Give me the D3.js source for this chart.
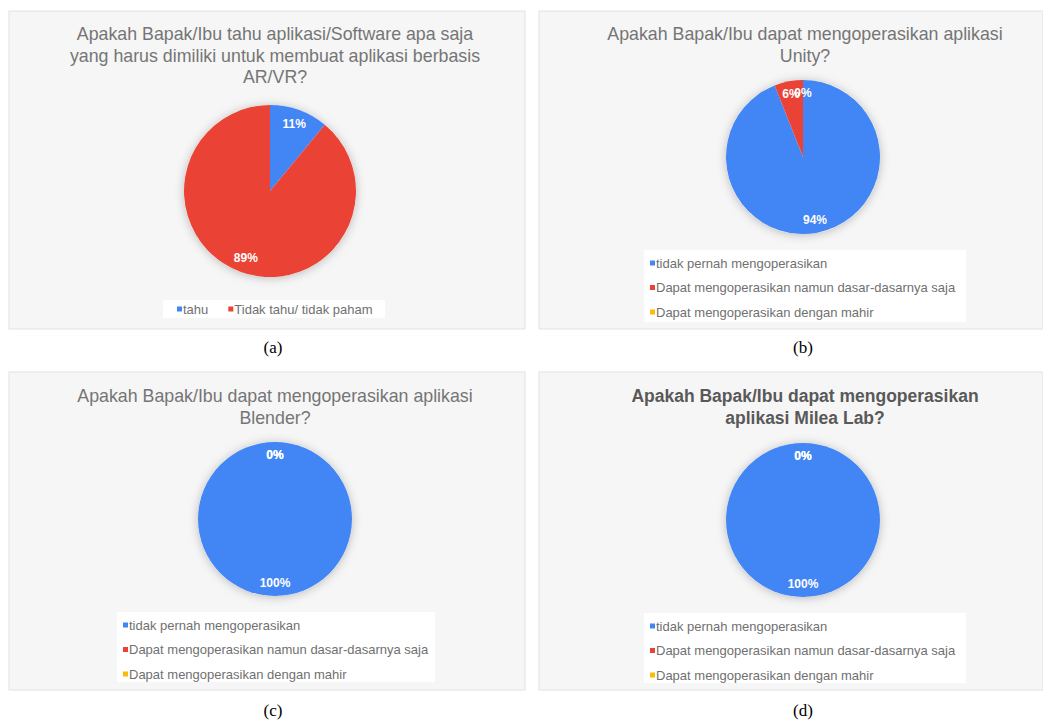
<!DOCTYPE html>
<html>
<head>
<meta charset="utf-8">
<script src="https://cdn.jsdelivr.net/npm/d3@7"></script>
<style>
  body { margin: 0; background: #fff; }
  svg { display: block; }
</style>
</head>
<body>
<svg id="chart" width="1043" height="726"></svg>
<script>
// data
var titleA = ["Apakah Bapak/Ibu tahu aplikasi/Software apa saja", "yang harus dimiliki untuk membuat aplikasi berbasis", "AR/VR?"];
var titleB = ["Apakah Bapak/Ibu dapat mengoperasikan aplikasi", "Unity?"];
var titleC = ["Apakah Bapak/Ibu dapat mengoperasikan aplikasi", "Blender?"];
var titleD = ["Apakah Bapak/Ibu dapat mengoperasikan", "aplikasi Milea Lab?"];

var legendA = ["tahu", "Tidak tahu/ tidak paham"];
var legendSkill = ["tidak pernah mengoperasikan", "Dapat mengoperasikan namun dasar-dasarnya saja", "Dapat mengoperasikan dengan mahir"];

var valuesA = [11, 89];
var valuesB = [94, 6, 0];
var valuesC = [100, 0, 0];
var valuesD = [100, 0, 0];

var captions = ["(a)", "(b)", "(c)", "(d)"];
var colors = ["#4285f4", "#ea4335", "#fbbc04"];

// layout of the four panels
var panels = [
  {box: [9, 11, 516, 318], title: titleA, bold: false, titleX: 275, titleY: 34, cx: 270, cy: 191, r: 86,
   legend: legendA, values: valuesA, horiz: true, legY: 309, legBox: [163, 300, 222, 18], cap: [273, 347]},
  {box: [539, 11, 504, 318], title: titleB, bold: false, titleX: 805, titleY: 34, cx: 803, cy: 157, r: 77,
   legend: legendSkill, values: valuesB, horiz: false, legY: 263, legBox: [644, 250, 322, 72], cap: [803, 347]},
  {box: [9, 372, 516, 318], title: titleC, bold: false, titleX: 275, titleY: 396, cx: 275, cy: 519, r: 77,
   legend: legendSkill, values: valuesC, horiz: false, legY: 625, legBox: [117, 612, 318, 70], cap: [273, 710]},
  {box: [539, 372, 504, 318], title: titleD, bold: true, titleX: 805, titleY: 396, cx: 803, cy: 520, r: 77,
   legend: legendSkill, values: valuesD, horiz: false, legY: 626, legBox: [644, 613, 322, 70], cap: [803, 710]}
];

var svg = d3.select("#chart");

var defs = svg.append("defs");
var f = defs.append("filter").attr("id", "shadow")
  .attr("x", "-25%").attr("y", "-25%").attr("width", "150%").attr("height", "150%");
f.append("feDropShadow").attr("dx", 0).attr("dy", 1).attr("stdDeviation", 5)
  .attr("flood-color", "#000").attr("flood-opacity", 0.25);

var pie = d3.pie().sort(null).value(function(d) { return d; });

panels.forEach(function(p, pi) {
  var g = svg.append("g");

  g.append("rect")
    .attr("x", p.box[0]).attr("y", p.box[1])
    .attr("width", p.box[2]).attr("height", p.box[3])
    .attr("fill", "#f6f6f6").attr("stroke", "#e2e2e2").attr("stroke-width", 1);

  var title = g.append("text")
    .attr("text-anchor", "middle")
    .attr("font-family", "Liberation Sans, Arial, sans-serif")
    .attr("font-size", p.bold ? 17.5 : 17.8)
    .attr("font-weight", p.bold ? "bold" : "normal")
    .attr("fill", p.bold ? "#595959" : "#757575");
  p.title.forEach(function(line, i) {
    title.append("tspan").attr("x", p.titleX).attr("y", p.titleY + i * 21.5)
      .attr("dominant-baseline", "central").text(line);
  });

  var total = d3.sum(p.values);
  var arcs = pie(p.values);
  var arc = d3.arc().innerRadius(0).outerRadius(p.r);
  var labelArc = d3.arc().innerRadius(p.r * 0.83).outerRadius(p.r * 0.83);

  var pg = g.append("g").attr("transform", "translate(" + p.cx + "," + p.cy + ")");
  pg.append("circle").attr("r", p.r).attr("fill", "#fff").attr("filter", "url(#shadow)");
  pg.selectAll("path.slice").data(arcs).join("path")
    .attr("class", "slice")
    .attr("d", arc)
    .attr("fill", function(d, i) { return colors[i]; });

  pg.selectAll("text.lbl").data(arcs).join("text")
    .attr("class", "lbl")
    .attr("transform", function(d) { return "translate(" + labelArc.centroid(d) + ")"; })
    .attr("text-anchor", "middle")
    .attr("dominant-baseline", "central")
    .attr("font-family", "Liberation Sans, Arial, sans-serif")
    .attr("font-size", 12)
    .attr("font-weight", "bold")
    .attr("fill", "#fff")
    .text(function(d) { return Math.round(d.value / total * 100) + "%"; });

  // legend
  g.append("rect")
    .attr("x", p.legBox[0]).attr("y", p.legBox[1])
    .attr("width", p.legBox[2]).attr("height", p.legBox[3])
    .attr("fill", "#fff");

  var lx = p.legBox[0] + 14;
  p.legend.forEach(function(name, i) {
    var ly = p.horiz ? p.legY : p.legY + i * 24.5;
    var mx = p.horiz ? lx : p.legBox[0] + 6;
    g.append("rect").attr("x", mx).attr("y", ly - 2.5).attr("width", 5).attr("height", 5)
      .attr("fill", colors[i]);
    var t = g.append("text")
      .attr("x", mx + 6).attr("y", ly)
      .attr("dominant-baseline", "central")
      .attr("font-family", "Liberation Sans, Arial, sans-serif")
      .attr("font-size", 13)
      .attr("fill", "#707070")
      .text(name);
    if (p.horiz) lx = mx + 6 + t.node().getComputedTextLength() + 20;
  });

  svg.append("text")
    .attr("x", p.cap[0]).attr("y", p.cap[1])
    .attr("text-anchor", "middle")
    .attr("dominant-baseline", "central")
    .attr("font-family", "Liberation Serif, Times New Roman, serif")
    .attr("font-size", 17)
    .attr("fill", "#000")
    .text(captions[pi]);
});
</script>
</body>
</html>
